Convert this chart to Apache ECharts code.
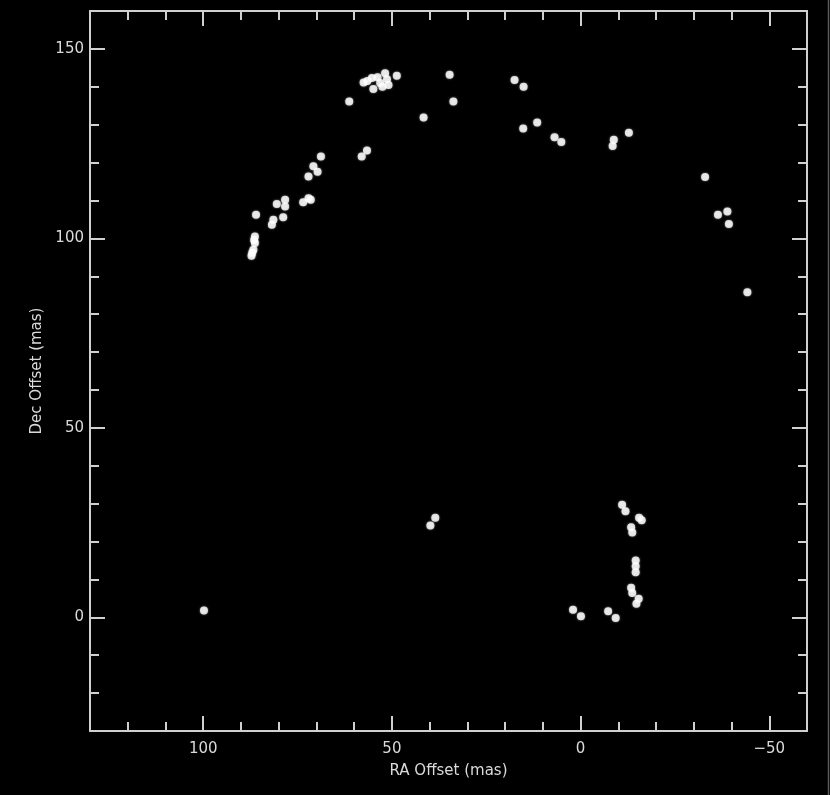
<!DOCTYPE html>
<html>
<head>
<meta charset="utf-8">
<title>RA / Dec offsets</title>
<script src="https://cdn.jsdelivr.net/npm/echarts@6/dist/echarts.min.js"></script>
<style>
  html, body { margin: 0; padding: 0; background: #000; }
  #chart { width: 830px; height: 795px; }
</style>
</head>
<body>
<div id="chart"></div>
<script>
// RA offset (mas) of each spot
var raOffset = [
  // western arc
  68.8, 70.8, 69.7, 72.1, 72.1, 73.5, 71.5, 78.3, 80.5, 78.3, 78.8, 81.4, 81.8,
  86.0, 86.3, 86.5, 86.3, 86.7, 87.0, 87.2,
  // top group
  57.5, 56.5, 55.3, 54.9, 53.8, 53.1, 52.5, 51.8, 50.9, 51.3, 48.7,
  61.3, 34.7, 33.7, 41.6, 58.0, 56.6,
  // eastern arc
  17.5, 15.1, 15.2, 11.5, 6.9, 5.1, -8.5, -8.8, -12.8,
  -33.0, -36.4, -38.9, -39.3, -44.2,
  // middle pair, lone spot
  39.8, 38.5, 99.8,
  // southern group
  -11.0, -11.9, -15.5, -16.2, -13.4, -13.7, -14.6, -14.6, -14.6,
  -13.4, -13.7, -15.4, -14.8, 2.0, -0.1, -7.3, -9.3
]
// Dec offset (mas), same order
var decOffset = [
  121.6, 119.0, 117.6, 116.3, 110.6, 109.5, 110.2, 110.2, 109.1, 108.4, 105.6, 104.9, 103.6,
  106.2, 100.5, 99.6, 98.8, 97.0, 96.2, 95.4,
  141.1, 141.5, 142.3, 139.4, 142.5, 141.0, 140.0, 143.6, 140.5, 142.0, 142.9,
  136.1, 143.2, 136.1, 131.9, 121.6, 123.2,
  141.8, 140.0, 129.0, 130.6, 126.7, 125.4, 124.4, 126.0, 127.9,
  116.2, 106.2, 107.1, 103.8, 85.8,
  24.2, 26.3, 1.8,
  29.7, 28.0, 26.3, 25.6, 23.8, 22.4, 15.0, 13.5, 11.9,
  7.8, 6.4, 4.9, 3.6, 2.0, 0.3, 1.6, -0.2
]
var raMajor = [-50, 0, 50, 100]
var decMajor = [0, 50, 100, 150]

var points = raOffset.map(function(ra, i) {
  return [ra, decOffset[i]]
})

var lineColor = '#d0d0d0'
var textColor = '#dadada'
var font = 'DejaVu Sans'

function minus(v) {
  return v < 0 ? '\u2212' + Math.abs(v) : String(v)
}

// major axis: line, long ticks, labels (labelMargin null = no labels)
function majorAxis(pos, range, ticks, labelMargin, extra) {
  var a = {
    type: 'value',
    position: pos,
    min: range[0],
    max: range[1],
    interval: 10,
    splitLine: { show: false },
    axisLine: { show: true, onZero: false, lineStyle: { color: lineColor, width: 2 } },
    axisTick: { show: true, inside: true, length: 15, customValues: ticks, lineStyle: { color: lineColor, width: 2 } },
    axisLabel: labelMargin != null
      ? { show: true, customValues: ticks, color: textColor, fontFamily: font, fontSize: 15, margin: labelMargin, formatter: minus }
      : { show: false }
  }
  return Object.assign(a, extra || {})
}

// minor ticks every 10
function minorAxis(pos, range, extra) {
  var a = {
    type: 'value',
    position: pos,
    min: range[0],
    max: range[1],
    interval: 10,
    splitLine: { show: false },
    axisLine: { show: false, onZero: false },
    axisTick: { show: true, inside: true, length: 9, lineStyle: { color: lineColor, width: 2 } },
    axisLabel: { show: false }
  }
  return Object.assign(a, extra || {})
}

var chart = echarts.init(document.getElementById('chart'))
chart.setOption({
  backgroundColor: '#000',
  animation: false,
  grid: { left: 90, right: 23, top: 11, bottom: 64 },
  graphic: [
    {
      type: 'line',
      shape: { x1: 828.5, y1: 0, x2: 828.5, y2: 795 },
      style: { stroke: '#5a5a5a', lineWidth: 1.5 }
    }
  ],
  xAxis: [
    majorAxis('bottom', [-60, 130], raMajor, 11, {
      inverse: true,
      name: 'RA Offset (mas)',
      nameLocation: 'middle',
      nameGap: 33,
      nameTextStyle: { color: textColor, fontFamily: font, fontSize: 15 }
    }),
    minorAxis('bottom', [-60, 130], { inverse: true }),
    majorAxis('top', [-60, 130], raMajor, null, { inverse: true }),
    minorAxis('top', [-60, 130], { inverse: true })
  ],
  yAxis: [
    majorAxis('left', [-30, 160], decMajor, 6, {
      name: 'Dec Offset (mas)',
      nameLocation: 'middle',
      nameGap: 45,
      nameTextStyle: { color: textColor, fontFamily: font, fontSize: 15 }
    }),
    minorAxis('left', [-30, 160]),
    majorAxis('right', [-30, 160], decMajor, null),
    minorAxis('right', [-30, 160])
  ],
  series: [
    {
      type: 'scatter',
      xAxisIndex: 0,
      yAxisIndex: 0,
      data: points,
      symbol: 'circle',
      symbolSize: 8,
      itemStyle: { color: '#ffffff', shadowBlur: 2, shadowColor: 'rgba(255,255,255,0.7)' }
    }
  ]
})
</script>
</body>
</html>
